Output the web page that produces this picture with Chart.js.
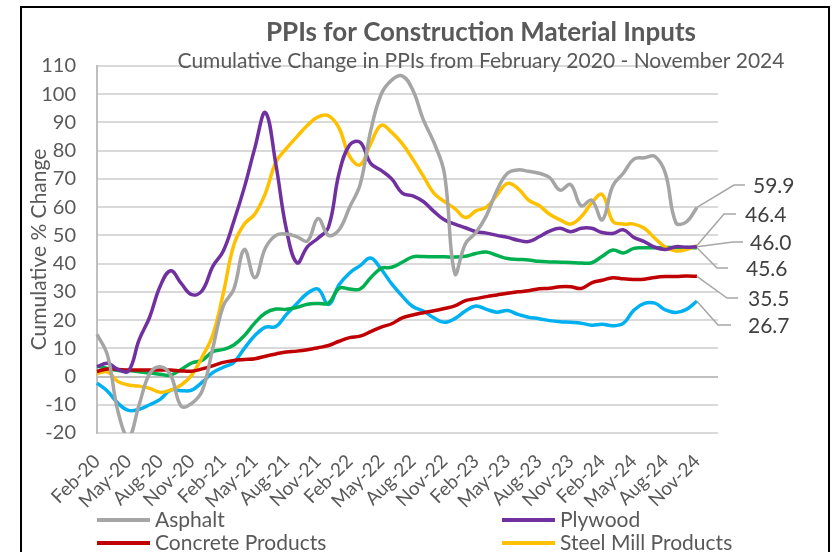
<!DOCTYPE html>
<html>
<head>
<meta charset="utf-8">
<title>PPIs for Construction Material Inputs</title>
<script src="https://cdn.jsdelivr.net/npm/chart.js@4.4.1/dist/chart.umd.min.js"></script>
<style>
  html, body { margin: 0; padding: 0; background: #fff; }
  #wrap { position: relative; width: 839px; height: 552px; }
</style>
</head>
<body>
<div id="wrap"><canvas id="ppiChart" width="839" height="552"></canvas></div>
<script>
const TITLE = 'PPIs for Construction Material Inputs';
const SUBTITLE = 'Cumulative Change in PPIs from February 2020 - November 2024';
const Y_TITLE = 'Cumulative % Change';

// monthly categories Feb-20 .. Jan-25 (data runs to Nov-24)
const monthNames = ['Jan', 'Feb', 'Mar', 'Apr', 'May', 'Jun', 'Jul', 'Aug', 'Sep', 'Oct', 'Nov', 'Dec'];
const months = [];
for (let k = 0; k < 60; k++) {
    const m = (1 + k) % 12;
    const yr = 20 + Math.floor((1 + k) / 12);
    months.push(monthNames[m] + '-' + yr);
}

const seriesNames = ['Asphalt', 'Plywood', 'Concrete Products', 'Steel Mill Products', 'Plastic Construction Products', 'Aluminum Mill Shapes'];

const asphalt = [15, 7.5, -12.5, -21.5, -10, 1, 3.5, 0.5, -10.5, -9.5, -5, 10, 25, 31, 45, 35, 45.5, 50, 50.5, 49.5,
    48, 56, 50, 52, 60, 68, 87, 100, 105, 106.5, 101.5, 91, 83, 72, 36.5, 47, 51, 57, 66, 72,
    73.2, 72.7, 72, 70.5, 66, 68, 60.5, 62.5, 55.5, 67.5, 72, 77, 77.5, 78, 72, 54.5, 54.8, 59.9];
const plywood = [3.5, 4.7, 2.5, 2, 13, 21, 32, 37.5, 33, 29, 30.5, 39, 44.5, 55, 67, 81, 93.5, 75, 52, 40.3,
    46, 49, 53, 72, 82, 83, 75.5, 73, 70, 65, 64, 62, 58.5, 55.5, 54, 52.7, 51.3, 50.8, 50, 49.3,
    48.3, 47.8, 49.5, 51.5, 52.5, 51.3, 52.5, 52.5, 51, 50.7, 52, 49.3, 47.8, 45.8, 45, 46, 45.8, 46.0];
const concrete = [1.8, 2.7, 2.5, 2.3, 2.3, 2.3, 2.3, 2.3, 2, 1.9, 2.7, 3.8, 5, 5.7, 6, 6.3, 7.2, 8, 8.7, 9,
    9.5, 10.2, 11, 12.5, 13.8, 14.3, 15.9, 17.5, 18.7, 20.8, 21.8, 22.6, 23.3, 24.1, 25, 26.9, 27.6, 28.3, 28.9, 29.5,
    30, 30.4, 31.1, 31.3, 31.8, 31.8, 31.2, 33.2, 34.1, 35, 34.6, 34.4, 34.5, 35.1, 35.4, 35.4, 35.6, 35.5];
const steelMill = [1, 1.7, -1.8, -3, -3.4, -4.2, -5.6, -4.8, -3, 0.5, 7, 14.7, 29.5, 46.6, 54, 57.6, 64.9, 76, 80.8, 85,
    89, 92, 92.4, 88, 78, 75, 82.5, 89, 86.5, 82.5, 77, 71, 65, 62, 59.5, 56.3, 58.7, 60, 64.3, 68.4,
    66.6, 62.5, 60.6, 57.5, 55.5, 54, 56.6, 61.5, 64.5, 55, 54, 54, 52.5, 49, 45.8, 44.5, 45, 46.4];
const plastics = [3.6, 2.9, 2.1, 2.1, 1.7, 1.3, 0.8, 0.5, 2.5, 4.8, 5.8, 8.8, 9.6, 11.2, 14.5, 19, 22.5, 23.9, 23.8, 24.5,
    25.6, 25.9, 26, 31.3, 31, 31, 35, 38.3, 38.7, 40.5, 42.4, 42.5, 42.4, 42.4, 42.3, 42.6, 43.6, 44.1, 42.9, 41.8,
    41.5, 41.3, 40.8, 40.6, 40.5, 40.4, 40.2, 40.3, 42.6, 44.8, 43.8, 45.4, 45.6, 45.6, 45.7, 45.7, 45.7, 45.6];
const aluminum = [-2.3, -5.2, -9.5, -12, -11.6, -10, -8.1, -4.8, -5, -4.8, -2, 1.4, 3.3, 5, 10, 14.5, 17.5, 17.7, 22, 25.9,
    29.5, 31, 25.5, 32.5, 36.7, 39.3, 42, 38, 32.8, 28.5, 24.8, 23.2, 20.8, 19.2, 20.5, 23.2, 25, 23.8, 22.8, 23.4,
    22, 21, 20.5, 19.8, 19.4, 19.2, 18.9, 18.2, 18.5, 18, 18.8, 23.5, 25.9, 26, 23.6, 22.7, 23.8, 26.7];

const seriesData = [asphalt, plywood, concrete, steelMill, plastics, aluminum];
const seriesColors = ['#a5a5a5', '#7030a0', '#c00000', '#ffc000', '#00b050', '#00b0f0'];

const yTicks = { min: -20, max: 110, step: 10 };

const FONT = 'Lato, "Open Sans", sans-serif';
const TEXT = '#595959';

// callout placement for the end-of-series values: [elbowX, elbowY, lineEndX, textX]
const calloutLayout = [
    [734, 185, 745, 753],
    [733, 242, 743, 750],
    [727, 298, 738, 748],
    [724, 214, 736, 745],
    [717, 268, 728, 746],
    [718, 325, 731, 748]
];

const framePlugin = {
    id: 'frame',
    beforeDraw(chart) {
        const ctx = chart.ctx;
        ctx.save();
        ctx.fillStyle = '#fff';
        ctx.fillRect(0, 0, chart.width, chart.height);
        ctx.strokeStyle = '#000';
        ctx.lineWidth = 2;
        ctx.strokeRect(21, 7, 808, 620);
        ctx.restore();
    },
    afterDraw(chart) {
        const ctx = chart.ctx;
        ctx.save();
        ctx.fillStyle = TEXT;
        ctx.textAlign = 'center';
        ctx.textBaseline = 'middle';
        ctx.font = 'bold 26px ' + FONT;
        ctx.fillText(TITLE, 481, 33);
        ctx.font = '21px ' + FONT;
        ctx.fillText(SUBTITLE, 481, 61);
        ctx.restore();
    }
};

const calloutPlugin = {
    id: 'callouts',
    afterDatasetsDraw(chart) {
        const ctx = chart.ctx;
        ctx.save();
        chart.data.datasets.forEach((ds, i) => {
            const meta = chart.getDatasetMeta(i);
            const last = meta.data[ds.data.length - 1];
            const [ex, ey, lx, tx] = calloutLayout[i];
            ctx.strokeStyle = '#a6a6a6';
            ctx.lineWidth = 1.5;
            ctx.beginPath();
            ctx.moveTo(last.x, last.y);
            ctx.lineTo(ex, ey);
            ctx.lineTo(lx, ey);
            ctx.stroke();
            ctx.fillStyle = '#404040';
            ctx.font = '21px ' + FONT;
            ctx.textAlign = 'left';
            ctx.textBaseline = 'middle';
            ctx.fillText(ds.data[ds.data.length - 1].toFixed(1), tx, ey + 1);
        });
        ctx.restore();
    }
};

// two-column legend under the axis, the same way the original lays it out
const legendPlugin = {
    id: 'colLegend',
    afterDraw(chart) {
        const ctx = chart.ctx;
        const cols = [97, 502];
        ctx.save();
        ctx.font = '21px ' + FONT;
        ctx.textBaseline = 'middle';
        ctx.textAlign = 'left';
        chart.data.datasets.forEach((ds, i) => {
            const x = cols[i % 2];
            const y = 520 + Math.floor(i / 2) * 23;
            ctx.strokeStyle = ds.borderColor;
            ctx.lineWidth = 4;
            ctx.beginPath();
            ctx.moveTo(x, y);
            ctx.lineTo(x + 53, y);
            ctx.stroke();
            ctx.fillStyle = TEXT;
            ctx.fillText(ds.label, x + 58, y);
        });
        ctx.restore();
    }
};

const datasets = seriesNames.map((name, i) => ({
    label: name,
    data: seriesData[i],
    borderColor: seriesColors[i],
    backgroundColor: seriesColors[i],
    borderWidth: 3.5,
    pointRadius: 0,
    tension: 0.4,
    fill: false
}));

new Chart(document.getElementById('ppiChart'), {
    type: 'line',
    data: { labels: months, datasets },
    options: {
        responsive: false,
        animation: false,
        layout: { padding: { top: 66, right: 121, bottom: 0, left: 0 } },
        plugins: {
            legend: { display: false },
            title: { display: false },
            tooltip: { enabled: false }
        },
        scales: {
            x: {
                type: 'category',
                offset: false,
                grid: { display: false },
                border: { display: false },
                ticks: {
                    autoSkip: false,
                    maxRotation: 45,
                    minRotation: 45,
                    padding: 9,
                    color: TEXT,
                    font: { family: FONT, size: 19 },
                    callback: (val, idx) => (idx % 3 === 0 ? months[idx] : '')
                },
                afterFit: s => { s.height = 119; }
            },
            y: {
                min: yTicks.min,
                max: yTicks.max,
                grid: {
                    drawTicks: false,
                    lineWidth: 2,
                    color: c => (c.tick && c.tick.value === 0 ? '#bfbfbf' : '#d9d9d9')
                },
                border: { color: '#bfbfbf', width: 2 },
                ticks: {
                    stepSize: yTicks.step,
                    padding: 21,
                    color: TEXT,
                    font: { family: FONT, size: 20 }
                },
                title: {
                    display: true,
                    text: Y_TITLE,
                    color: TEXT,
                    font: { family: FONT, size: 21 },
                    padding: { top: 27, bottom: 0 }
                },
                afterFit: s => { s.width = 97; }
            }
        }
    },
    plugins: [framePlugin, calloutPlugin, legendPlugin]
});
</script>
</body>
</html>
